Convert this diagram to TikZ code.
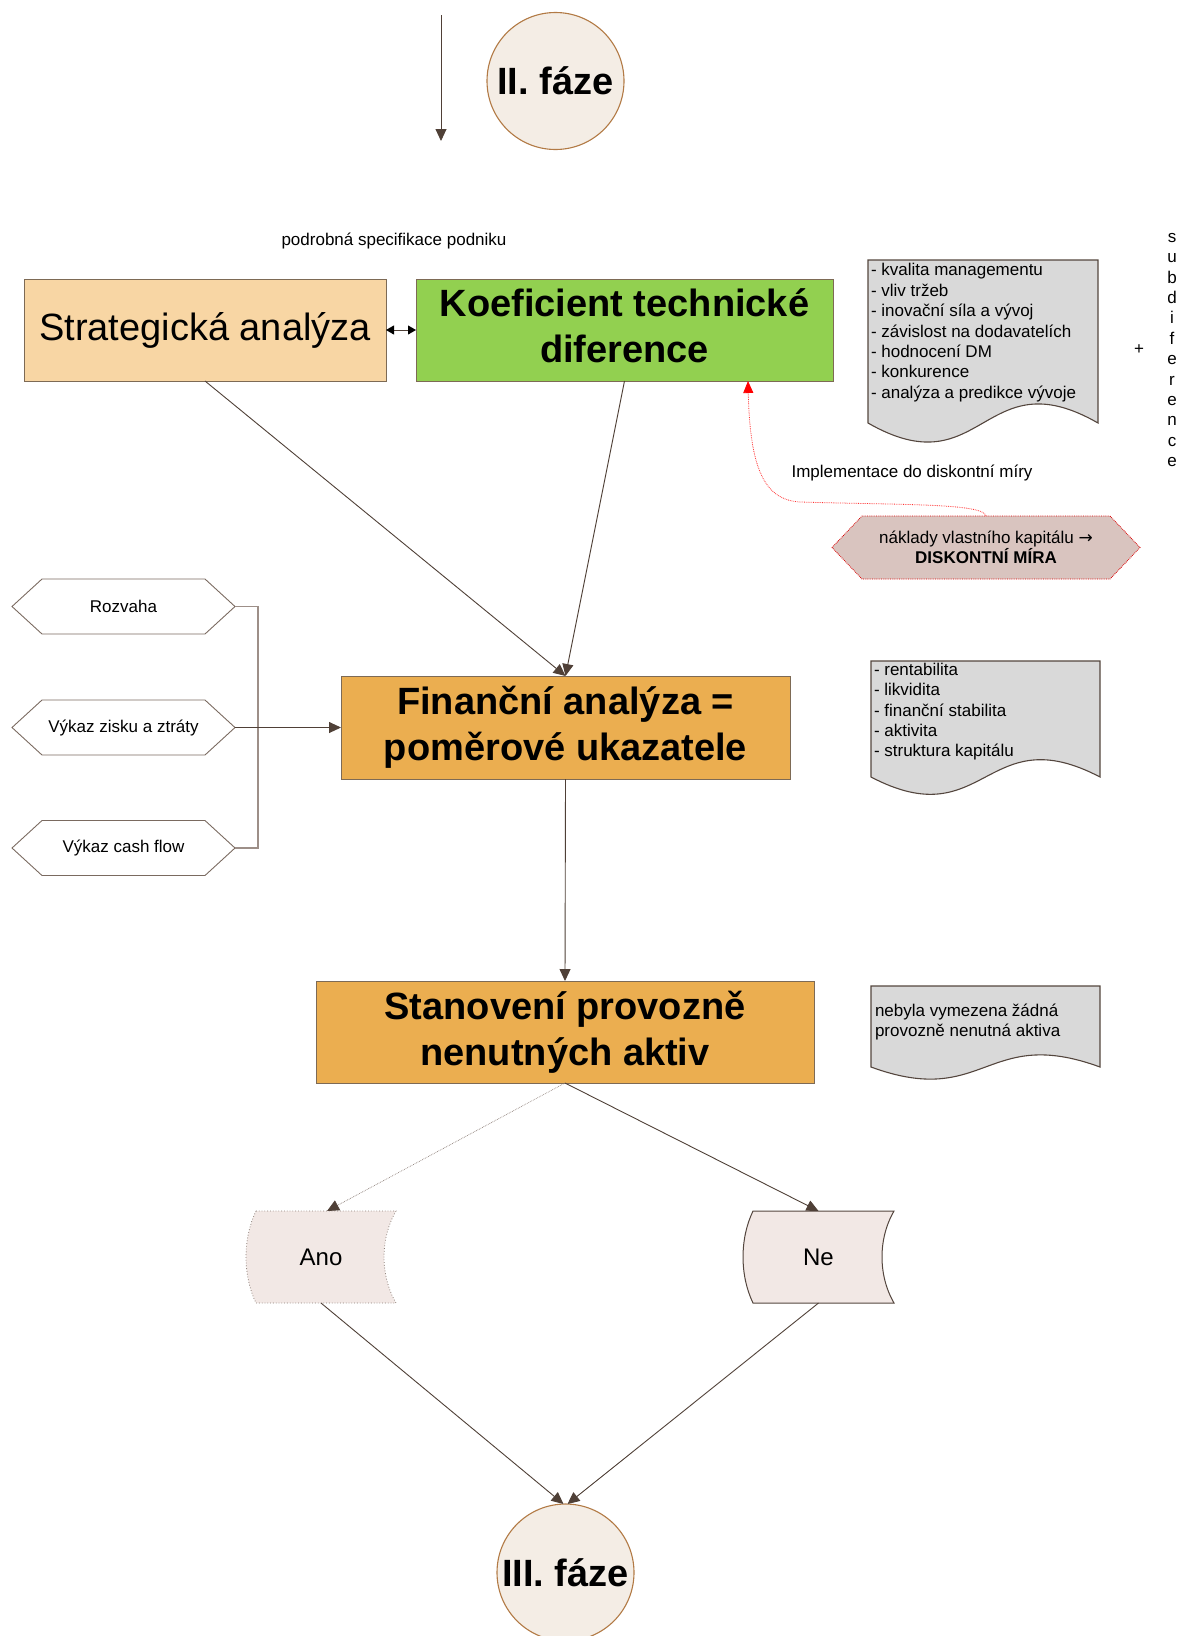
\documentclass[tikz,border=0pt]{standalone}
\usepackage{fontspec}
\setmainfont{Liberation Sans}
\newfontfamily\arrowfont{DejaVu Sans}
\usetikzlibrary{arrows.meta,calc,backgrounds}

\definecolor{linebrown}{HTML}{4F4037}
\definecolor{boxedge}{HTML}{7D6A55}
\definecolor{peach}{HTML}{F8D6A4}
\definecolor{leaf}{HTML}{92D050}
\definecolor{amber}{HTML}{EBAE50}
\definecolor{docgray}{HTML}{D9D9D9}
\definecolor{docedge}{HTML}{54463E}
\definecolor{phasefill}{HTML}{F4EDE5}
\definecolor{phaseedge}{HTML}{B27A45}
\definecolor{pinkfill}{HTML}{F2E8E5}
\definecolor{rosefill}{HTML}{D9C4BF}
\definecolor{hexedge}{HTML}{7A6A60}
\definecolor{bracketgray}{HTML}{9D8F88}
\definecolor{faintline}{HTML}{8C7F78}

\tikzset{
  every node/.style={outer sep=0pt},
  titlefont/.style={font=\fontsize{38}{46}\selectfont\bfseries},
  plainfont/.style={font=\fontsize{17}{20.4}\selectfont},
  boxnode/.style={rectangle, draw=boxedge, line width=1pt, minimum height=102pt,
    align=center, inner sep=0pt},
  phase/.style={circle, draw=phaseedge, line width=1.1pt, fill=phasefill,
    minimum size=137pt, inner sep=0pt, titlefont},
  doctext/.style={plainfont, align=left, inner sep=0pt, anchor=north west},
  docline/.style={draw=docedge, line width=1.1pt, fill=docgray},
  hexnode/.style={rectangle, minimum height=55pt, minimum width=223pt, inner sep=0pt, plainfont},
  hexline/.style={draw=hexedge, line width=0.9pt, fill=white},
  hexred/.style={draw=red!85!black, densely dotted, line width=0.8pt, fill=rosefill},
  storenode/.style={rectangle, minimum height=92pt, inner sep=0pt,
    font=\fontsize{24}{28}\selectfont},
  conn/.style={draw=linebrown, line width=0.9pt, -{Triangle[length=12pt,width=11pt]}},
  connfaint/.style={draw=faintline, densely dotted, line width=0.7pt,
    -{Triangle[length=12pt,width=11pt,color=linebrown,fill=linebrown]}},
  pairarrow/.style={draw=linebrown, line width=0.9pt,
    {Triangle[length=8pt,width=9pt,color=black]}-{Triangle[length=8pt,width=9pt,color=black]}},
  bracket/.style={draw=bracketgray, line width=1.1pt},
  redconn/.style={draw=red!80, densely dotted, line width=0.8pt,
    -{Triangle[length=12pt,width=10pt,color=red,fill=red]}},
}

% document-style box: left, top, right, bottom of the sides, wave amplitude
\newcommand\docshape[5]{%
  \draw[docline] (#1,#4) -- (#1,#2) -- (#3,#2) -- (#3,#4)
    .. controls ({(#1+#3)/2},{#4-#5}) and ({(#1+#3)/2},{#4+#5}) .. (#1,#4) -- cycle;}

% six-sided outline around a rectangular node
\newcommand\hexoutline[3]{%
  \draw[#3] (#1.west) -- ([xshift=#2]#1.north west) -- ([xshift=-#2]#1.north east)
    -- (#1.east) -- ([xshift=-#2]#1.south east) -- ([xshift=#2]#1.south west) -- cycle;}

% stored-data outline: convex left side, concave right side
\newcommand\storeoutline[2]{%
  \draw[#2] ([xshift=10pt]#1.north west) -- (#1.north east)
    .. controls ($(#1.north east)!0.3!(#1.south east)+(-16,0)$)
           and ($(#1.north east)!0.7!(#1.south east)+(-16,0)$) .. (#1.south east)
    -- ([xshift=10pt]#1.south west)
    .. controls ($(#1.north west)!0.7!(#1.south west)+(-3.3,0)$)
           and ($(#1.north west)!0.3!(#1.south west)+(-3.3,0)$) .. ([xshift=10pt]#1.north west)
    -- cycle;}

\begin{document}
\begin{tikzpicture}[x=1pt,y=-1pt]
\useasboundingbox (0,0) rectangle (1182,1636);
\clip (0,0) rectangle (1182,1636);

% ---- phase II header
\node[phase] (fazeII) at (555.5,81) {II. fáze};
\coordinate (entry) at (441,15);
\coordinate (entryend) at (441,141);
\draw[conn] (entry) -- (entryend);

\node[plainfont] (spec) at (394,241) {podrobná specifikace podniku};

% ---- top row
\node[boxnode, fill=peach, minimum width=362pt, font=\fontsize{38}{46}\selectfont]
  (strat) at (205,330) {Strategická analýza};
\node[boxnode, fill=leaf, minimum width=417pt, titlefont]
  (koef) at (624.5,330) {Koeficient technické\\diference\rule[-8pt]{0pt}{0pt}};
\draw[pairarrow] (strat.east) -- (koef.west);

\docshape{868}{260}{1098}{423}{66}
\node[doctext] (factors) at (871,263.5) {- kvalita managementu\\- vliv tržeb\\- inovační síla a vývoj\\- závislost na dodavatelích\\- hodnocení DM\\- konkurence\\- analýza a predikce vývoje};

\node[plainfont] (plus) at (1139,350) {+};
\node[plainfont, align=center, inner sep=0pt] (subdif) at (1172,350)
  {s\\u\\b\\d\\i\\f\\e\\r\\e\\n\\c\\e};

% ---- discount rate
\node[hexnode, minimum width=308pt, minimum height=63pt, align=center,
  font=\fontsize{17}{19.5}\selectfont] (naklady) at (986,547.5)
  {náklady vlastního kapitálu {\arrowfont →}\\\textbf{DISKONTNÍ MÍRA}};
\node[plainfont] (impl) at (912,473) {Implementace do diskontní míry};

% ---- statements
\node[hexnode] (rozvaha) at (123.5,606.5) {Rozvaha};
\node[hexnode] (zisk) at (123.5,727.5) {Výkaz zisku a ztráty};
\node[hexnode] (cash) at (123.5,848) {Výkaz cash flow};

\node[boxnode, fill=amber, minimum width=449pt, minimum height=103pt, titlefont]
  (fin) at (565.5,727.5) {Finanční analýza =\\poměrové ukazatele};

\draw[bracket] (rozvaha.east) -- ++(23,0) |- (cash.east);
\draw[conn] (zisk.east) -- (fin.west);
\draw[conn] (strat.south) -- (fin.north);
\draw[conn] (koef.south) -- (fin.north);

\draw[redconn] (naklady.north) .. controls (984,503) and (900,505) .. (800,502)
  .. controls (765,500) and (750,470) .. ([xshift=-85pt]koef.south east);

\docshape{871}{661}{1100}{777}{60}
\node[doctext] (ratios) at (874,663) {- rentabilita\\- likvidita\\- finanční stabilita\\- aktivita\\- struktura kapitálu};

% ---- non-operating assets
\node[boxnode, fill=amber, minimum width=498pt, titlefont]
  (stan) at (565,1032) {Stanovení provozně\\nenutných aktiv};
\draw[conn] (fin.south) -- (stan.north);

\docshape{871}{986}{1100}{1067}{42}
\node[doctext] (none) at (875,1004) {nebyla vymezena žádná\\provozně nenutná aktiva};

\node[storenode, minimum width=150pt] (ano) at (321,1257) {Ano};
\node[storenode, minimum width=151pt] (ne) at (818.5,1257) {Ne};

\draw[connfaint] (stan.south) -- ([xshift=6pt]ano.north);
\draw[conn] (stan.south) -- (ne.north);

% ---- phase III
\node[phase] (fazeIII) at (565.5,1572.5) {III. fáze};
\draw[conn] (ano.south) -- ([xshift=-2pt]fazeIII.north);
\draw[conn] (ne.south) -- ([xshift=2pt]fazeIII.north);

\begin{scope}[on background layer]
  \hexoutline{naklady}{30pt}{hexred}
  \hexoutline{rozvaha}{30pt}{hexline}
  \hexoutline{zisk}{30pt}{hexline}
  \hexoutline{cash}{30pt}{hexline}
  \storeoutline{ano}{draw=faintline, dotted, line width=0.8pt, fill=pinkfill}
  \storeoutline{ne}{draw=docedge, line width=1pt, fill=pinkfill}
\end{scope}
\end{tikzpicture}
\end{document}
